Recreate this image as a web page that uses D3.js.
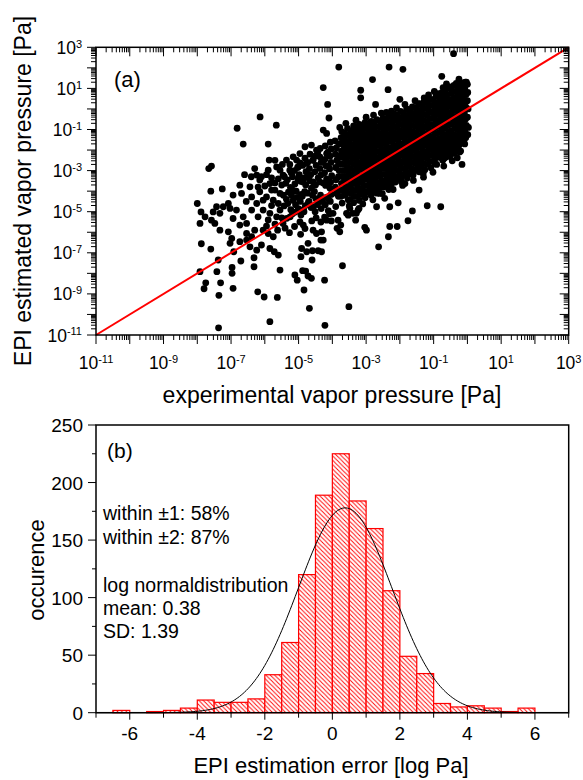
<!DOCTYPE html>
<html>
<head>
<meta charset="utf-8">
<script src="https://cdn.jsdelivr.net/npm/d3@7"></script>
<style>
  body { margin: 0; background: #fff; }
  svg { display: block; font-family: Arial, "Liberation Sans", sans-serif; }
</style>
</head>
<body>
<svg id="chart" width="583" height="780"></svg>
<script>
// (a) log10 of [experimental, EPI estimated] vapor pressure in Pa
const outlierPoints = [
  [-3.81,2.04],[-2.32,2.04],[-1.91,1.93],[-0.41,2.69],[-2.81,1.43],[-0.76,1.59],[-4.27,1.04],[-3.16,0.91],
  [-2.35,0.94],[-3.16,0.54],[-4.14,0.22],[-2.72,0.22],[-2.0,0.47],[-0.72,1.04],[-0.92,0.7],[-1.28,0.54],
  [-4.1,-0.44],[-2.4,-0.17],[-2.25,-0.11],[-2.07,-0.47],[-4.27,-1.03],[-6.14,-0.39],[-5.66,-0.79],
  [-6.82,-0.94],[-6.64,-1.71],[-5.9,-1.71],[-7.66,-2.9],[-7.58,-2.78],[-5.87,-2.49],
  [-4.17,-1.19],[-3.78,-0.9],[-3.68,-1.52],[-3.39,-1.03],[-1.41,0.26],[-1.71,-0.06],[-1.21,0.51],
  [-0.87,0.75],[-0.67,0.91],[-0.52,1.07],[-0.33,1.24],[-0.13,1.27],[-0.03,1.31],[-0.08,1.24],
  [-1.43,-3.95],[-1.19,-4.71],[-0.79,-4.76],[-1.63,-4.96],[-1.76,-5.44],[-2.05,-4.57],[-2.3,-4.76],
  [-2.3,-5.72],[-2.08,-5.72],[-2.34,-6.22],[-2.63,-6.71],[-2.99,-5.9],[-3.04,-5.76],[-3.31,-5.41],
  [-3.78,-5.98],[-3.83,-5.41],[-3.7,-7.63],[-4.23,-8.33],[-4.27,-6.38],[-4.32,-6.95],[-0.16,-2.7],
  [-0.23,-2.09],[-0.38,-1.85],[-0.62,-2.33],[-0.97,-2.62],[-1.31,-3.14],[-1.61,-3.14],[-1.81,-3.22],
  [-1.95,-3.55],[-1.85,-3.63],[-2.69,-4.76],[-3.21,-4.84],[-3.29,-5.08],[-3.58,-5.08],[-3.48,-4.84],
  [-3.98,-5.08],[-4.17,-5.41],[-2.45,-4.35],[-2.6,-4.11],[-3.51,-9.62],[-4.68,-9.7],[-4.22,-10.53],
  [-4.84,-8.81],[-4.62,-8.24],[-4.72,-8.13],[-5.11,-8.08],[-5.04,-8.33],[-4.88,-7.87],[-4.79,-7.89],
  [-5.55,-7.84],[-4.6,-7.35],[-4.93,-7.19],[-4.76,-6.95],[-4.59,-6.9],[-4.42,-6.9],[-4.34,-6.38],
  [-4.91,-6.79],[-4.72,-6.54],[-3.86,-5.81],[-3.75,-5.65],[-3.53,-5.17],[-3.39,-5.08],[-3.24,-4.92],
  [-4.57,-5.9],[-4.47,-6.06],[-4.32,-5.98],[-4.86,-5.65]
];

const sparsePoints = [
  [-8.0,-4.6],[-7.6,-4.0],[-7.26,-3.89],[-7.92,-5.57],[-7.89,-5.01],[-7.88,-6.56],[-7.6,-6.82],
  [-7.92,-7.92],[-7.75,-8.46],[-7.8,-8.75],[-7.38,-7.35],[-7.42,-7.92],[-7.31,-8.46],[-7.36,-9.07],
  [-6.94,-8.73],[-6.97,-8.0],[-6.97,-7.71],[-6.71,-7.4],[-6.32,-7.68],[-6.21,-8.9],[-6.02,-9.15],
  [-5.63,-9.17],[-7.37,-10.65],[-5.85,-10.35],[-6.32,-7.24],[-5.85,-6.79],[-5.72,-6.95],[-5.6,-7.11],
  [-7.53,-5.01],[-7.43,-4.76],[-7.48,-5.57],[-7.33,-5.9],[-7.08,-4.6],[-7.03,-4.84],[-6.94,-4.19],
  [-6.84,-4.92],[-6.94,-5.33],[-7.08,-5.98],[-6.98,-6.3],[-7.03,-6.54],[-6.92,-6.95],[-6.74,-6.46],
  [-6.54,-6.38],[-6.44,-6.71],[-6.24,-6.87],[-6.1,-6.62],[-6.74,-3.71],[-6.69,-4.11],[-6.44,-3.79],
  [-6.39,-4.28],[-6.24,-3.22],[-6.1,-3.3],[-6.15,-4.03],[-6.05,-4.44],[-6.24,-4.6],[-6.39,-4.92],
  [-6.2,-5.25],[-6.64,-5.25],[-6.54,-5.57],[-6.74,-5.65],[-7.23,-4.76],[-7.33,-5.08],[-7.77,-5.25],
  [-7.58,-5.41],[-6.54,-6.06],[-6.39,-6.22],[-6.3,-5.9],[-6.05,-5.9],[-5.9,-6.06],[-5.75,-6.22],
  [-5.9,-2.98],[-5.65,-2.82],[-5.55,-2.98],[-5.46,-3.22],[-6.15,-3.46],[-5.85,-3.63],[-5.7,-3.95],
  [-5.95,-4.28],[-5.75,-4.44],[-5.55,-4.11],[-6.05,-4.92],[-5.85,-5.08],[-5.65,-5.25],[-5.55,-4.92],
  [-5.46,-5.57],[-5.36,-2.49],[-5.16,-2.33],[-5.06,-2.49],[-4.96,-2.17],[-4.81,-1.84],[-4.62,-1.76],
  [-4.47,-2.0],[-5.26,-2.98],[-5.01,-2.82],[-4.77,-2.65],[-4.57,-2.49],[-4.37,-2.33],[-4.17,-2.17],
  [-5.95,-3.2],[-5.8,-3.35],[-5.7,-3.6],[-5.6,-3.4],[-5.5,-3.7],[-5.45,-4.2],[-5.6,-4.6],[-5.8,-4.7],
  [-5.9,-5.4],[-5.7,-5.6],[-5.5,-5.3],[-5.62,-5.9],[-5.8,-3.95],[-5.48,-2.7],[-5.7,-2.5],[-6.0,-3.75],
  [-5.95,-5.7],[-6.2,-3.8],[-6.4,-3.3],[-6.55,-4.5],[-6.6,-3.2],[-6.3,-2.9]
];

const midPoints = [
  [-5.42,-3.3],[-5.38,-3.62],[-5.36,-4.4],[-5.43,-4.72],[-5.35,-5.32],[-5.4,-5.8],
  [-5.26,-2.7],[-5.22,-3.1],[-5.24,-3.82],[-5.21,-4.2],[-5.23,-4.9],[-5.25,-5.25],[-5.27,-6.02],
  [-5.12,-3.0],[-5.11,-3.65],[-5.07,-4.0],[-5.09,-4.66],[-5.1,-5.02],[-5.12,-5.72],
  [-4.96,-2.62],[-4.98,-3.2],[-4.94,-3.52],[-4.92,-4.16],[-4.95,-4.5],[-4.93,-5.16],[-4.96,-5.5],[-4.94,-6.1],
  [-4.81,-2.4],[-4.78,-3.05],[-4.83,-3.36],[-4.79,-3.7],[-4.82,-4.02],[-4.8,-4.7],[-4.84,-5.0],[-4.81,-5.82],
  [-4.66,-2.2],[-4.68,-2.9],[-4.64,-3.2],[-4.67,-3.5],[-4.62,-3.86],[-4.69,-4.5],[-4.63,-4.8],[-4.61,-5.45],
  [-4.51,-2.3],[-4.48,-2.75],[-4.52,-3.06],[-4.5,-3.7],[-4.53,-4.02],[-4.49,-4.36],[-4.51,-5.0],[-4.48,-5.3],
  [-4.36,-1.92],[-4.33,-2.6],[-4.37,-2.9],[-4.34,-3.22],[-4.38,-3.55],[-4.35,-4.2],[-4.37,-4.5],[-4.33,-4.85],[-4.34,-5.5],
  [-4.21,-1.8],[-4.22,-2.45],[-4.19,-2.76],[-4.23,-3.1],[-4.17,-3.4],[-4.2,-3.72],[-4.18,-4.3],[-4.21,-4.66],[-4.23,-5.26],
  [-4.06,-1.62],[-4.03,-1.95],[-4.07,-2.3],[-4.04,-2.6],[-4.08,-2.92],[-4.02,-3.25],[-4.05,-3.56],[-4.07,-3.86],[-4.03,-4.16],[-4.06,-4.5],[-4.08,-5.1],[-4.03,-5.45],
  [-5.33,-3.45],[-5.3,-4.05],[-5.32,-4.6],[-5.18,-3.3],[-5.17,-3.95],[-5.16,-4.45],[-5.18,-5.1],[-5.03,-2.85],
  [-5.02,-3.4],[-5.04,-4.3],[-5.01,-4.85],[-4.88,-2.75],[-4.87,-3.55],[-4.89,-4.25],[-4.86,-4.9],[-4.73,-2.6],
  [-4.72,-3.3],[-4.74,-4.1],[-4.71,-4.55],[-4.58,-2.5],[-4.57,-3.55],[-4.59,-4.2],[-4.56,-4.75],[-4.43,-2.1],
  [-4.42,-3.35],[-4.44,-4.65],[-4.28,-2.55],[-4.27,-3.6],[-4.29,-4.5],[-4.13,-2.1],[-4.12,-2.8],[-4.14,-3.55],
  [-4.11,-4.4],[-4.12,-4.95]
];

const corePoints = [
  [-3.92,-1.55],[-3.88,-1.9],[-3.91,-2.2],[-3.87,-2.5],[-3.9,-2.85],[-3.89,-3.45],[-3.91,-3.8],[-3.88,-4.1],[-3.9,-4.75],
  [-3.72,-1.1],[-3.74,-1.4],[-3.7,-1.72],[-3.73,-2.05],[-3.71,-2.35],[-3.75,-2.68],[-3.72,-3.0],[-3.69,-3.3],[-3.73,-3.62],[-3.7,-3.95],[-3.74,-4.25],[-3.71,-4.58],
  [-3.55,-0.95],[-3.57,-1.28],[-3.53,-1.6],[-3.56,-1.9],[-3.54,-2.2],[-3.58,-2.52],[-3.55,-2.85],[-3.52,-3.15],[-3.56,-3.46],[-3.54,-3.78],[-3.57,-4.08],[-3.53,-4.42],
  [-3.37,-0.82],[-3.39,-1.15],[-3.35,-1.45],[-3.38,-1.76],[-3.36,-2.06],[-3.4,-2.38],[-3.37,-2.7],[-3.34,-3.0],[-3.38,-3.32],[-3.36,-3.62],[-3.39,-3.95],[-3.35,-4.25],[-3.37,-4.56],
  [-3.2,-0.75],[-3.22,-1.05],[-3.18,-1.38],[-3.21,-1.68],[-3.19,-2.0],[-3.23,-2.3],[-3.2,-2.62],[-3.17,-2.92],[-3.21,-3.25],[-3.19,-3.55],[-3.22,-3.86],[-3.18,-4.16],[-3.2,-4.45],
  [-3.03,-0.66],[-3.05,-0.95],[-3.01,-1.25],[-3.04,-1.55],[-3.02,-1.85],[-3.06,-2.15],[-3.03,-2.46],[-3.0,-2.78],[-3.04,-3.1],[-3.02,-3.4],[-3.05,-3.72],[-3.01,-4.02],[-3.03,-4.32],
  [-2.85,-0.6],[-2.87,-0.9],[-2.83,-1.2],[-2.86,-1.5],[-2.84,-1.82],[-2.88,-2.12],[-2.85,-2.44],[-2.82,-2.75],[-2.86,-3.06],[-2.84,-3.36],[-2.87,-3.66],[-2.83,-3.96],[-2.85,-4.2],
  [-2.68,-0.52],[-2.7,-0.85],[-2.66,-1.15],[-2.69,-1.45],[-2.67,-1.75],[-2.71,-2.05],[-2.68,-2.36],[-2.65,-2.66],[-2.69,-2.96],[-2.67,-3.26],[-2.7,-3.56],[-2.66,-3.86],[-2.68,-4.1],
  [-2.5,-0.45],[-2.52,-0.74],[-2.48,-1.04],[-2.51,-1.35],[-2.49,-1.66],[-2.53,-1.96],[-2.5,-2.26],[-2.47,-2.56],[-2.51,-2.86],[-2.49,-3.18],[-2.52,-3.5],[-2.48,-3.8],
  [-2.33,-0.32],[-2.35,-0.64],[-2.31,-0.95],[-2.34,-1.25],[-2.32,-1.55],[-2.36,-1.86],[-2.33,-2.16],[-2.3,-2.46],[-2.34,-2.76],[-2.32,-3.06],[-2.35,-3.36],[-2.31,-3.66],[-2.33,-3.92],
  [-2.15,-0.25],[-2.17,-0.55],[-2.13,-0.86],[-2.16,-1.16],[-2.14,-1.46],[-2.18,-1.76],[-2.15,-2.06],[-2.12,-2.36],[-2.16,-2.66],[-2.14,-2.96],[-2.17,-3.26],[-2.13,-3.56],
  [-1.98,-0.12],[-2.0,-0.44],[-1.96,-0.75],[-1.99,-1.05],[-1.97,-1.35],[-2.01,-1.66],[-1.98,-1.96],[-1.95,-2.26],[-1.99,-2.56],[-1.97,-2.86],[-2.0,-3.16],[-1.96,-3.46],
  [-1.8,0.0],[-1.82,-0.34],[-1.78,-0.65],[-1.81,-0.95],[-1.79,-1.26],[-1.83,-1.56],[-1.8,-1.86],[-1.77,-2.16],[-1.81,-2.46],[-1.79,-2.76],[-1.82,-3.06],[-1.78,-3.36],
  [-1.63,0.1],[-1.65,-0.2],[-1.61,-0.5],[-1.64,-0.8],[-1.62,-1.1],[-1.66,-1.4],[-1.63,-1.7],[-1.6,-2.0],[-1.64,-2.3],[-1.62,-2.6],[-1.65,-2.9],[-1.61,-3.22],
  [-1.45,0.25],[-1.47,-0.06],[-1.43,-0.36],[-1.46,-0.66],[-1.44,-0.96],[-1.48,-1.26],[-1.45,-1.56],[-1.42,-1.86],[-1.46,-2.16],[-1.44,-2.46],[-1.47,-2.76],[-1.43,-3.06],
  [-1.28,0.36],[-1.3,0.05],[-1.26,-0.26],[-1.29,-0.56],[-1.27,-0.86],[-1.31,-1.16],[-1.28,-1.46],[-1.25,-1.76],[-1.29,-2.06],[-1.27,-2.36],[-1.3,-2.66],[-1.26,-2.96],
  [-1.1,0.46],[-1.12,0.15],[-1.08,-0.15],[-1.11,-0.46],[-1.09,-0.76],[-1.13,-1.06],[-1.1,-1.36],[-1.07,-1.66],[-1.11,-1.96],[-1.09,-2.26],[-1.12,-2.56],[-1.08,-2.86],
  [-0.93,0.6],[-0.95,0.3],[-0.91,0.0],[-0.94,-0.3],[-0.92,-0.6],[-0.96,-0.9],[-0.93,-1.2],[-0.9,-1.5],[-0.94,-1.8],[-0.92,-2.1],[-0.95,-2.4],[-0.91,-2.7],
  [-0.75,0.8],[-0.77,0.5],[-0.73,0.2],[-0.76,-0.1],[-0.74,-0.4],[-0.78,-0.7],[-0.75,-1.0],[-0.72,-1.3],[-0.76,-1.6],[-0.74,-1.9],[-0.77,-2.2],[-0.73,-2.5],
  [-0.58,1.0],[-0.6,0.7],[-0.56,0.4],[-0.59,0.1],[-0.57,-0.2],[-0.61,-0.5],[-0.58,-0.8],[-0.55,-1.1],[-0.59,-1.4],[-0.57,-1.7],[-0.6,-2.0],[-0.56,-2.3],
  [-0.4,1.15],[-0.42,0.85],[-0.38,0.55],[-0.41,0.25],[-0.39,-0.05],[-0.43,-0.35],[-0.4,-0.65],[-0.37,-0.95],[-0.41,-1.25],[-0.39,-1.55],[-0.42,-1.85],[-0.38,-2.15],
  [-0.22,1.25],[-0.24,0.95],[-0.2,0.65],[-0.23,0.35],[-0.21,0.05],[-0.25,-0.25],[-0.22,-0.55],[-0.19,-0.85],[-0.23,-1.15],[-0.21,-1.45],[-0.24,-1.75],[-0.2,-2.05],
  [-0.06,1.3],[-0.08,1.0],[-0.04,0.7],[-0.07,0.4],[-0.05,0.1],[-0.09,-0.2],[-0.06,-0.5],[-0.03,-0.8],[-0.07,-1.1],[-0.05,-1.4],[-0.08,-1.7],
  [0.0,1.2],[0.01,0.8],[0.0,0.4],[0.02,0.0],[0.0,-0.4]
];

const coreFillPoints = [
  [-3.81,-1.7],[-3.82,-2.3],[-3.81,-2.65],[-3.8,-3.0],[-3.82,-3.3],[-3.8,-3.95],[-3.82,-4.25],
  [-3.64,-1.2],[-3.63,-1.5],[-3.65,-1.8],[-3.64,-2.1],[-3.63,-2.4],[-3.65,-2.7],[-3.64,-3.0],[-3.63,-3.3],[-3.65,-3.6],[-3.64,-3.9],[-3.63,-4.2],
  [-3.46,-1.1],[-3.45,-1.4],[-3.47,-1.7],[-3.46,-2.0],[-3.45,-2.3],[-3.47,-2.6],[-3.46,-2.9],[-3.45,-3.2],[-3.47,-3.5],[-3.46,-3.8],[-3.45,-4.1],[-3.47,-4.4],
  [-3.29,-0.95],[-3.28,-1.25],[-3.3,-1.55],[-3.29,-1.85],[-3.28,-2.15],[-3.3,-2.45],[-3.29,-2.75],[-3.28,-3.05],[-3.3,-3.35],[-3.29,-3.65],[-3.28,-3.95],[-3.3,-4.25],
  [-3.12,-0.85],[-3.11,-1.15],[-3.13,-1.45],[-3.12,-1.75],[-3.11,-2.05],[-3.13,-2.35],[-3.12,-2.65],[-3.11,-2.95],[-3.13,-3.25],[-3.12,-3.55],[-3.11,-3.85],[-3.13,-4.15],
  [-2.94,-0.75],[-2.93,-1.05],[-2.95,-1.35],[-2.94,-1.65],[-2.93,-1.95],[-2.95,-2.25],[-2.94,-2.55],[-2.93,-2.85],[-2.95,-3.15],[-2.94,-3.45],[-2.93,-3.75],[-2.95,-4.05],
  [-2.77,-0.7],[-2.76,-1.0],[-2.78,-1.3],[-2.77,-1.6],[-2.76,-1.9],[-2.78,-2.2],[-2.77,-2.5],[-2.76,-2.8],[-2.78,-3.1],[-2.77,-3.4],[-2.76,-3.7],[-2.78,-3.95],
  [-2.59,-0.6],[-2.58,-0.9],[-2.6,-1.2],[-2.59,-1.5],[-2.58,-1.8],[-2.6,-2.1],[-2.59,-2.4],[-2.58,-2.7],[-2.6,-3.0],[-2.59,-3.3],[-2.58,-3.6],[-2.6,-3.85],
  [-2.42,-0.5],[-2.41,-0.8],[-2.43,-1.1],[-2.42,-1.4],[-2.41,-1.7],[-2.43,-2.0],[-2.42,-2.3],[-2.41,-2.6],[-2.43,-2.9],[-2.42,-3.2],[-2.41,-3.5],[-2.43,-3.75],
  [-2.24,-0.4],[-2.23,-0.7],[-2.25,-1.0],[-2.24,-1.3],[-2.23,-1.6],[-2.25,-1.9],[-2.24,-2.2],[-2.23,-2.5],[-2.25,-2.8],[-2.24,-3.1],[-2.23,-3.4],[-2.25,-3.65],
  [-2.07,-0.3],[-2.06,-0.6],[-2.08,-0.9],[-2.07,-1.2],[-2.06,-1.5],[-2.08,-1.8],[-2.07,-2.1],[-2.06,-2.4],[-2.08,-2.7],[-2.07,-3.0],[-2.06,-3.3],
  [-1.89,-0.2],[-1.88,-0.5],[-1.9,-0.8],[-1.89,-1.1],[-1.88,-1.4],[-1.9,-1.7],[-1.89,-2.0],[-1.88,-2.3],[-1.9,-2.6],[-1.89,-2.9],[-1.88,-3.2],
  [-1.72,-0.1],[-1.71,-0.4],[-1.73,-0.7],[-1.72,-1.0],[-1.71,-1.3],[-1.73,-1.6],[-1.72,-1.9],[-1.71,-2.2],[-1.73,-2.5],[-1.72,-2.8],[-1.71,-3.1],
  [-1.54,0.05],[-1.53,-0.25],[-1.55,-0.55],[-1.54,-0.85],[-1.53,-1.15],[-1.55,-1.45],[-1.54,-1.75],[-1.53,-2.05],[-1.55,-2.35],[-1.54,-2.65],[-1.53,-2.95],
  [-1.37,0.2],[-1.36,-0.1],[-1.38,-0.4],[-1.37,-0.7],[-1.36,-1.0],[-1.38,-1.3],[-1.37,-1.6],[-1.36,-1.9],[-1.38,-2.2],[-1.37,-2.5],[-1.36,-2.8],
  [-1.19,0.3],[-1.18,0.0],[-1.2,-0.3],[-1.19,-0.6],[-1.18,-0.9],[-1.2,-1.2],[-1.19,-1.5],[-1.18,-1.8],[-1.2,-2.1],[-1.19,-2.4],[-1.18,-2.7],
  [-1.02,0.45],[-1.01,0.15],[-1.03,-0.15],[-1.02,-0.45],[-1.01,-0.75],[-1.03,-1.05],[-1.02,-1.35],[-1.01,-1.65],[-1.03,-1.95],[-1.02,-2.25],[-1.01,-2.55],
  [-0.84,0.65],[-0.83,0.35],[-0.85,0.05],[-0.84,-0.25],[-0.83,-0.55],[-0.85,-0.85],[-0.84,-1.15],[-0.83,-1.45],[-0.85,-1.75],[-0.84,-2.05],[-0.83,-2.35],
  [-0.67,0.85],[-0.66,0.55],[-0.68,0.25],[-0.67,-0.05],[-0.66,-0.35],[-0.68,-0.65],[-0.67,-0.95],[-0.66,-1.25],[-0.68,-1.55],[-0.67,-1.85],[-0.66,-2.15],[-0.68,-2.4],
  [-0.49,1.05],[-0.48,0.75],[-0.5,0.45],[-0.49,0.15],[-0.48,-0.15],[-0.5,-0.45],[-0.49,-0.75],[-0.48,-1.05],[-0.5,-1.35],[-0.49,-1.65],[-0.48,-1.95],[-0.5,-2.25],
  [-0.31,1.1],[-0.3,0.8],[-0.32,0.5],[-0.31,0.2],[-0.3,-0.1],[-0.32,-0.4],[-0.31,-0.7],[-0.3,-1.0],[-0.32,-1.3],[-0.31,-1.6],[-0.3,-1.9],
  [-0.14,1.15],[-0.13,0.85],[-0.15,0.55],[-0.14,0.25],[-0.13,-0.05],[-0.15,-0.35],[-0.14,-0.65],[-0.13,-0.95],[-0.15,-1.25],[-0.14,-1.55]
];

// ragged rim of the dense cloud
const edgePoints = [
  [-3.6,-0.7],[-3.3,-0.55],[-3.0,-0.4],[-2.78,-0.3],[-2.55,-0.2],[-2.1,0.05],[-1.85,0.22],[-1.55,0.4],
  [-1.15,0.68],[-0.98,0.85],[-0.62,1.22],[-0.25,1.45],
  [-3.5,-4.72],[-3.1,-4.62],[-2.8,-4.42],[-2.52,-4.12],[-2.2,-3.92],[-1.92,-3.72],[-1.6,-3.48],
  [-1.3,-3.32],[-1.02,-3.08],[-0.7,-2.78],[-0.45,-2.52],[-0.3,-2.38],[0.03,-0.9],[0.01,-1.25]
];

const scatterPoints = outlierPoints.concat(sparsePoints, midPoints, corePoints, coreFillPoints, edgePoints);
const parityLine = [-11, 3];
const decadeExps = d3.range(-11, 4);
const labelExps = [-11, -9, -7, -5, -3, -1, 1, 3];

// (b) histogram of estimation error, bins of 0.5 log Pa
const binStarts = [-6.5, -6, -5.5, -5, -4.5, -4, -3.5, -3, -2.5, -2, -1.5, -1, -0.5,
                   0, 0.5, 1, 1.5, 2, 2.5, 3, 3.5, 4, 4.5, 5, 5.5];
const binCounts = [2, 0, 1, 2, 4, 11, 9, 9, 12, 33, 61, 120, 189,
                   225, 184, 160, 106, 49, 34, 8, 5, 6, 4, 1, 4];
const binWidth = 0.5;
const fitMean = 0.38, fitSD = 1.39, fitPeak = 178;
const histXTicks = d3.range(-7, 8, 1);
const histXLabels = [-6, -4, -2, 0, 2, 4, 6];
const histYTicks = d3.range(0, 251, 25);
const histYLabels = [0, 50, 100, 150, 200, 250];
const notes = [
  ['within ±1: 58%', 520], ['within ±2: 87%', 543.5],
  ['log normaldistribution', 591.5], ['mean: 0.38', 614.5], ['SD: 1.39', 638]
];

const svg = d3.select('#chart');

// ---------- panel (a) ----------
const ax = { left: 96, right: 568.7, top: 47.3, bottom: 335 };
const x = d3.scaleLog().domain([1e-11, 1e3]).range([ax.left, ax.right]);
const y = d3.scaleLog().domain([1e-11, 1e3]).range([ax.bottom, ax.top]);

svg.append('clipPath').attr('id', 'clipA')
  .append('rect')
    .attr('x', ax.left).attr('y', ax.top)
    .attr('width', ax.right - ax.left).attr('height', ax.bottom - ax.top);

svg.append('g').attr('clip-path', 'url(#clipA)')
  .selectAll('circle')
  .data(scatterPoints)
  .enter().append('circle')
    .attr('cx', d => x(Math.pow(10, d[0])))
    .attr('cy', d => y(Math.pow(10, d[1])))
    .attr('r', 3.4)
    .attr('fill', '#000');

svg.append('line')
    .attr('x1', x(Math.pow(10, parityLine[0])))
    .attr('y1', y(Math.pow(10, parityLine[0])))
    .attr('x2', x(Math.pow(10, parityLine[1])))
    .attr('y2', y(Math.pow(10, parityLine[1])))
    .attr('stroke', '#f00')
    .attr('stroke-width', 2);

// log ticks: every decade major, 2..9 minor
const minorVals = [];
decadeExps.slice(0, -1).forEach(e => {
  for (let k = 2; k < 10; k++) minorVals.push(k * Math.pow(10, e));
});
const majorVals = decadeExps.map(e => Math.pow(10, e));

const tA = svg.append('g').attr('stroke', '#000').attr('stroke-width', 1);
function logTicks(vals, len) {
  vals.forEach(v => {
    const px = x(v), py = y(v);
    tA.append('line').attr('x1', px).attr('x2', px).attr('y1', ax.bottom).attr('y2', ax.bottom + len);
    tA.append('line').attr('x1', px).attr('x2', px).attr('y1', ax.top).attr('y2', ax.top + len);
    tA.append('line').attr('y1', py).attr('y2', py).attr('x1', ax.left).attr('x2', ax.left - len);
    tA.append('line').attr('y1', py).attr('y2', py).attr('x1', ax.right).attr('x2', ax.right - len);
  });
}
logTicks(minorVals, 5);
logTicks(majorVals, 9);

svg.append('rect')
    .attr('x', ax.left).attr('y', ax.top)
    .attr('width', ax.right - ax.left).attr('height', ax.bottom - ax.top)
    .attr('fill', 'none').attr('stroke', '#000').attr('stroke-width', 1.5);

function powLabel(sel, e) {
  sel.append('tspan').text('10');
  sel.append('tspan').attr('dy', '-0.55em').style('font-size', '11px').text(e < 0 ? '-' + (-e) : e);
}

svg.append('g').selectAll('text')
  .data(labelExps)
  .enter().append('text')
    .attr('x', e => x(Math.pow(10, e)))
    .attr('y', 369)
    .attr('text-anchor', 'middle')
    .style('font-size', '17.5px')
    .each(function(e) { powLabel(d3.select(this), e); });

svg.append('g').selectAll('text')
  .data(labelExps)
  .enter().append('text')
    .attr('x', 82)
    .attr('y', e => y(Math.pow(10, e)) + 6.5)
    .attr('text-anchor', 'end')
    .style('font-size', '17.5px')
    .each(function(e) { powLabel(d3.select(this), e); });

svg.append('text')
    .attr('x', 114).attr('y', 87)
    .style('font-size', '22px')
    .text('(a)');

svg.append('text')
    .attr('x', 332).attr('y', 403)
    .attr('text-anchor', 'middle')
    .style('font-size', '23px')
    .text('experimental vapor pressure [Pa]');

svg.append('text')
    .attr('transform', 'translate(31,191) rotate(-90)')
    .attr('text-anchor', 'middle')
    .style('font-size', '23px')
    .text('EPI estimated vapor pressure [Pa]');

// ---------- panel (b) ----------
const bx = { left: 96, right: 568.7, top: 425, bottom: 712.7 };
const hx = d3.scaleLinear().domain([-7, 7]).range([bx.left, bx.right]);
const hy = d3.scaleLinear().domain([0, 250]).range([bx.bottom, bx.top]);

const pat = svg.append('defs').append('pattern')
    .attr('id', 'hatch')
    .attr('patternUnits', 'userSpaceOnUse')
    .attr('width', 4.4).attr('height', 4.4);
pat.append('rect').attr('width', 4.4).attr('height', 4.4).attr('fill', '#fff');
pat.append('path')
    .attr('d', 'M0,0L4.4,4.4M-1,3.4L1,5.4M3.4,-1L5.4,1')
    .attr('stroke', '#f00').attr('stroke-width', 0.9);

const bins = binStarts.map((s, i) => ({ x0: s, n: binCounts[i] })).filter(d => d.n > 0);

svg.append('g').selectAll('rect')
  .data(bins)
  .enter().append('rect')
    .attr('x', d => hx(d.x0))
    .attr('y', d => hy(d.n))
    .attr('width', d => hx(d.x0 + binWidth) - hx(d.x0))
    .attr('height', d => hy(0) - hy(d.n))
    .attr('fill', 'url(#hatch)')
    .attr('stroke', '#f00')
    .attr('stroke-width', 1.2);

const fitX = d3.range(-7, 7.001, 0.05);
const fitLine = d3.line()
    .x(v => hx(v))
    .y(v => hy(fitPeak * Math.exp(-Math.pow(v - fitMean, 2) / (2 * fitSD * fitSD))));

svg.append('path')
    .datum(fitX)
    .attr('d', fitLine)
    .attr('fill', 'none')
    .attr('stroke', '#000')
    .attr('stroke-width', 1);

const tB = svg.append('g').attr('stroke', '#000').attr('stroke-width', 1);
histXTicks.forEach(v => {
  const len = histXLabels.includes(v) ? 7 : 5;
  tB.append('line').attr('x1', hx(v)).attr('x2', hx(v)).attr('y1', bx.bottom).attr('y2', bx.bottom + len);
});
histYTicks.forEach(v => {
  const len = histYLabels.includes(v) ? 8 : 4;
  tB.append('line').attr('y1', hy(v)).attr('y2', hy(v)).attr('x1', bx.left).attr('x2', bx.left - len);
});

svg.append('rect')
    .attr('x', bx.left).attr('y', bx.top)
    .attr('width', bx.right - bx.left).attr('height', bx.bottom - bx.top)
    .attr('fill', 'none').attr('stroke', '#000').attr('stroke-width', 1.5);

svg.append('g').selectAll('text')
  .data(histXLabels)
  .enter().append('text')
    .attr('x', d => hx(d))
    .attr('y', 740)
    .attr('text-anchor', 'middle')
    .style('font-size', '19px')
    .text(d => d);

svg.append('g').selectAll('text')
  .data(histYLabels)
  .enter().append('text')
    .attr('x', 83)
    .attr('y', d => hy(d) + 7)
    .attr('text-anchor', 'end')
    .style('font-size', '19px')
    .text(d => d);

svg.append('text')
    .attr('x', 107).attr('y', 458)
    .style('font-size', '21px')
    .text('(b)');

svg.append('g').selectAll('text')
  .data(notes)
  .enter().append('text')
    .attr('x', 103)
    .attr('y', d => d[1])
    .style('font-size', '19.5px')
    .text(d => d[0]);

svg.append('text')
    .attr('x', 331).attr('y', 773)
    .attr('text-anchor', 'middle')
    .style('font-size', '22px')
    .text('EPI estimation error [log Pa]');

svg.append('text')
    .attr('transform', 'translate(44,570) rotate(-90)')
    .attr('text-anchor', 'middle')
    .style('font-size', '22px')
    .text('occurence');
</script>
</body>
</html>
